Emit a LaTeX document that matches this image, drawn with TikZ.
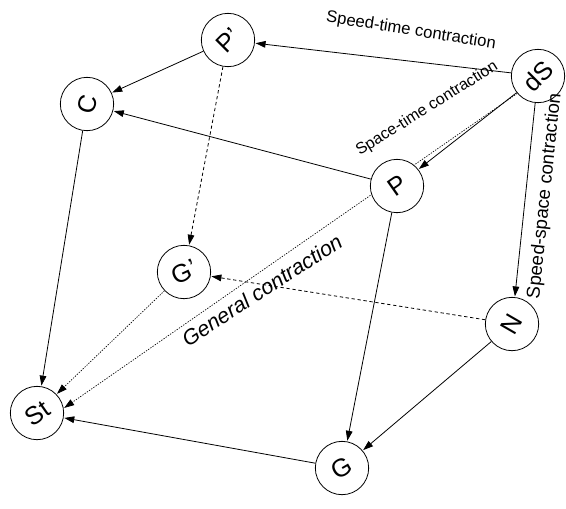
\documentclass[tikz,border=0pt]{standalone}
\usepackage{fontspec}
\setmainfont{Liberation Sans}
\usetikzlibrary{arrows.meta,backgrounds}
\begin{document}
\begin{tikzpicture}[x=0.75pt,y=-0.75pt,
  nd/.style={circle,draw,fill=white,line width=0.6pt,minimum size=40pt,inner sep=0pt,font=\fontsize{19}{19}\selectfont},
  arr/.style={-{Triangle[length=7.5pt,width=5pt]},line width=0.6pt,shorten >=0.5pt},
  dashedge/.style={dash pattern=on 2.5pt off 2pt},
  dotedge/.style={dash pattern=on 1pt off 1pt,line width=0.5pt},
  lbl/.style={font=\fontsize{12.5}{12.5}\selectfont}]
\useasboundingbox (0,0) rectangle (566,508);
\node[nd] (Pp) at (228,40) {\rotatebox{45}{P’}};
\node[nd] (dS) at (538,76) {\rotatebox{45}{dS}};
\node[nd] (C)  at (87,104) {\rotatebox{75}{C}};
\node[nd] (P)  at (397,186) {\rotatebox{35}{P}};
\node[nd] (Gp) at (184,272) {\rotatebox{25}{G’}};
\node[nd] (N)  at (512,324) {\rotatebox{60}{N}};
\node[nd] (St) at (37,413) {\rotatebox{35}{St}};
\node[nd] (G)  at (342,468) {\rotatebox{30}{G}};
\begin{scope}[on background layer]
\draw[arr] (dS) -- (Pp);
\draw[arr] (Pp) -- (C);
\draw[arr,dashedge] (Pp) -- (Gp);
\draw[arr] (dS) -- (P);
\draw[arr,dotedge] (dS.220) -- (St.10);
\draw[arr] (P) -- (C);
\draw[arr] (P) -- (G);
\draw[arr] (dS) -- (N);
\draw[arr,dashedge] (N) -- (Gp);
\draw[arr] (N) -- (G);
\draw[arr] (G) -- (St);
\draw[arr] (C) -- (St);
\draw[arr,dotedge] (Gp) -- (St);
\end{scope}
\node[lbl,rotate=-9] (l1) at (411,31) {Speed-time contraction};
\node[font=\fontsize{12}{12}\selectfont,rotate=32] (l2) at (427,109) {Space-time contraction};
\node[font=\fontsize{14}{14}\selectfont,rotate=84] (l3) at (545,196) {Speed-space contraction};
\node[font=\fontsize{16}{16}\selectfont\itshape,rotate=33] (l4) at (262,290) {General contraction};
\end{tikzpicture}
\end{document}
